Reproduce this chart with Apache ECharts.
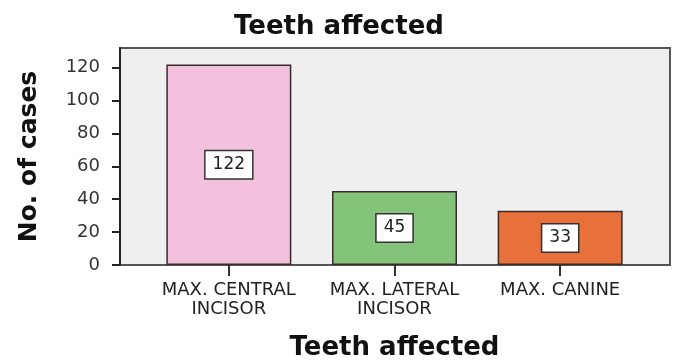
<!DOCTYPE html>
<html>
<head>
<meta charset="utf-8">
<script src="https://cdn.jsdelivr.net/npm/echarts@6/dist/echarts.min.js"></script>
<style>
  html, body { margin: 0; padding: 0; background: #ffffff; }
  #chart { width: 678px; height: 360px; }
</style>
</head>
<body>
<div id="chart"></div>
<script>
// Teeth affected: number of cases per tooth type
const categories = ['MAX. CENTRAL\nINCISOR', 'MAX. LATERAL\nINCISOR', 'MAX. CANINE'];
const cases = [122, 45, 33];
const barColors = ['#f2c0dc', '#84c47a', '#e8703a'];
const yTicks = [0, 20, 40, 60, 80, 100, 120];

const FONT = '"DejaVu Sans", Verdana, sans-serif';
const Y_MAX = 132;

const chart = echarts.init(document.getElementById('chart'));

chart.setOption({
  animation: false,
  title: {
    text: 'Teeth affected',
    left: 'center',
    top: 9,
    textStyle: { fontFamily: FONT, fontSize: 26, fontWeight: 'bold', color: '#111' }
  },
  grid: [
    // framed plot area with the value scale
    { left: 120, right: 8, top: 48, bottom: 95, show: true, outerBoundsMode: 'none',
      backgroundColor: '#efefef', borderColor: '#555', borderWidth: 2 },
    // inner band holding the bars and their category ticks
    { left: 146, right: 35, top: 48, bottom: 95, outerBoundsMode: 'none' }
  ],
  xAxis: [
    { gridIndex: 0, type: 'value', min: 0, max: 1, show: false },
    {
      gridIndex: 1,
      type: 'category',
      data: categories,
      name: 'Teeth affected',
      nameLocation: 'middle',
      nameGap: 70,
      nameTextStyle: { fontFamily: FONT, fontSize: 26, fontWeight: 'bold', color: '#111' },
      axisLine: { show: false },
      axisTick: { show: true, alignWithLabel: true, length: 11, lineStyle: { color: '#333', width: 2 } },
      axisLabel: { fontFamily: FONT, fontSize: 18, color: '#222', lineHeight: 19, margin: 16, interval: 0 },
      splitLine: { show: false }
    }
  ],
  yAxis: [
    {
      gridIndex: 0,
      type: 'value',
      min: 0,
      max: Y_MAX,
      name: 'No. of cases',
      nameLocation: 'middle',
      nameGap: 78,
      nameTextStyle: { fontFamily: FONT, fontSize: 25, fontWeight: 'bold', color: '#111' },
      axisLine: { show: true, lineStyle: { color: '#222', width: 2 } },
      axisTick: { show: true, length: 8, customValues: yTicks, lineStyle: { color: '#222', width: 2 } },
      axisLabel: { fontFamily: FONT, fontSize: 18, color: '#333', margin: 20, customValues: yTicks },
      splitLine: { show: false }
    },
    { gridIndex: 1, type: 'value', min: 0, max: Y_MAX, show: false }
  ],
  series: [
    {
      type: 'bar',
      xAxisIndex: 1,
      yAxisIndex: 1,
      barWidth: 125,
      data: cases.map((v, i) => ({
        value: v,
        itemStyle: { color: barColors[i], borderColor: '#3a2a2a', borderWidth: 1.5 }
      })),
      label: {
        show: true,
        position: 'inside',
        fontFamily: FONT,
        fontSize: 17,
        color: '#222',
        backgroundColor: '#ffffff',
        borderColor: '#333',
        borderWidth: 1.5,
        padding: [6, 7, 4, 7]
      }
    }
  ]
});
</script>
</body>
</html>
